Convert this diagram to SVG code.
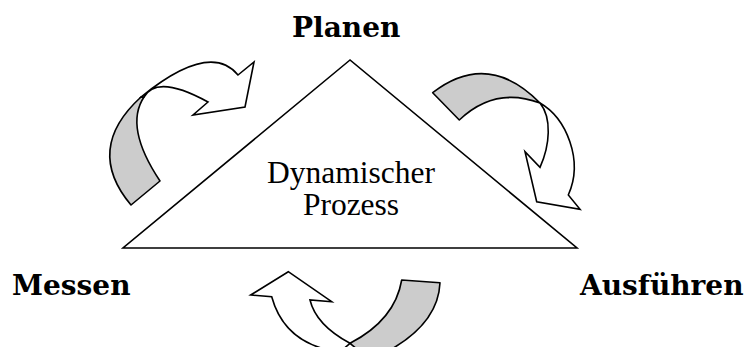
<svg xmlns="http://www.w3.org/2000/svg" width="754" height="347" viewBox="0 0 754 347">
<style>
.ln{stroke:#000;stroke-width:1.6;stroke-linejoin:miter;fill:none}
.g{fill:#cccccc;stroke:#000;stroke-width:1.6;stroke-linejoin:round}
.w{fill:#fff;stroke:#000;stroke-width:1.6;stroke-linejoin:miter}
.lbl{font-family:"DejaVu Serif",serif;font-weight:bold;font-size:28px;fill:#000}
.ctr{font-family:"Liberation Serif",serif;font-size:31.5px;fill:#000;text-anchor:middle}
</style>
<rect width="754" height="347" fill="#fff"/>
<g id="triangle">
<polygon class="w" points="350,60 123,248 577,248"/>
<text class="ctr" x="351" y="183">Dynamischer</text>
<text class="ctr" x="351" y="215">Prozess</text>
</g>
<g id="planen"><text class="lbl" x="292" y="37">Planen</text></g>
<g id="messen"><text class="lbl" x="12" y="295">Messen</text></g>
<g id="ausfuehren"><text class="lbl" x="580" y="295">Ausführen</text></g>
<g id="connectors">
<g id="arrow-left">
<path class="g" d="M131,205 Q84,149 141,97 L144,97 Q124,127 160,181 Z"/>
<path class="w" d="M141,97 Q210,41 238,75 L254,62 L245,107 L193,115 L208,102 Q157,74 144,97 Z"/>
</g>
<g id="arrow-right">
<path class="g" d="M432.7,92.7 Q488,50 540,103 Q495,86 459.3,120 Z"/>
<path class="w" d="M540,103 C566,118 584,160 568.3,195 L580,209.3 L536.7,201.7 L525,151.7 L540,167.3 C550,145 552,118 540,103 Z"/>
</g>
<g id="arrow-bottom">
<path class="g" d="M401.7,280 L440,282.7 Q438,330 370,360 L350,343.3 Q395,320 401.7,280 Z"/>
<path class="w" d="M271.7,296.7 Q285,345 340,352 L350,343.3 Q316,325 310,300 L331.7,301.7 L288.3,271.7 L250.7,295 Z"/>
</g>
</g>
</svg>
